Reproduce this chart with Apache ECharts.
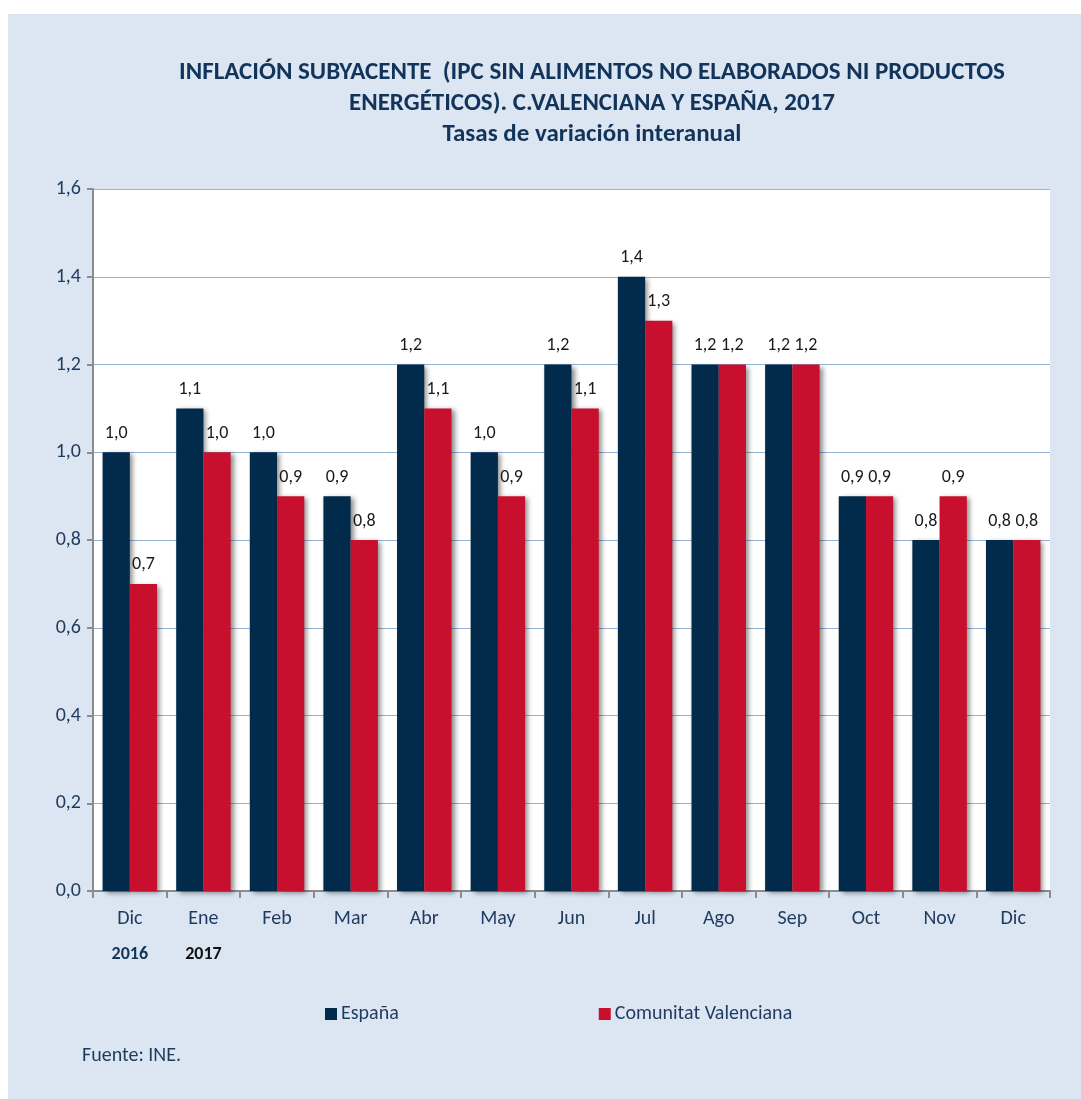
<!DOCTYPE html>
<html>
<head>
<meta charset="utf-8">
<script src="https://cdn.jsdelivr.net/npm/echarts@6/dist/echarts.min.js"></script>
<style>
  html, body { margin: 0; padding: 0; background: #fff; }
  #chart { position: absolute; left: 8px; top: 14px; width: 1073px; height: 1085px; }
</style>
</head>
<body>
<div id="chart"></div>
<script>
var months = ['Dic', 'Ene', 'Feb', 'Mar', 'Abr', 'May', 'Jun', 'Jul', 'Ago', 'Sep', 'Oct', 'Nov', 'Dic'];
var years = ['2016', '2017', '', '', '', '', '', '', '', '', '', '', ''];
var espana = [1.0, 1.1, 1.0, 0.9, 1.2, 1.0, 1.2, 1.4, 1.2, 1.2, 0.9, 0.8, 0.8];
var cvalenciana = [0.7, 1.0, 0.9, 0.8, 1.1, 0.9, 1.1, 1.3, 1.2, 1.2, 0.9, 0.9, 0.8];
var yTicks = [0, 0.2, 0.4, 0.6, 0.8, 1.0, 1.2, 1.4, 1.6];

var font = "Carlito, 'Liberation Sans Narrow', 'Noto Sans', sans-serif";

var chart = echarts.init(document.getElementById('chart'));

function fmt(v) {
  return v.toFixed(1).replace('.', ',');
}

var labelStyle = {
  show: true,
  position: 'top',
  distance: 10,
  color: '#1a1a1a',
  fontSize: 18,
  fontFamily: font,
  formatter: function (p) { return fmt(p.value); }
};

var shadow = {
  shadowColor: 'rgba(0,0,0,0.45)',
  shadowBlur: 5,
  shadowOffsetX: 3,
  shadowOffsetY: 2
};

var option = {
  backgroundColor: '#dce6f2',
  animation: false,
  title: {
    text: 'INFLACIÓN SUBYACENTE  (IPC SIN ALIMENTOS NO ELABORADOS NI PRODUCTOS\nENERGÉTICOS). C.VALENCIANA Y ESPAÑA, 2017\nTasas de variación interanual',
    left: 579,
    top: 38,
    textAlign: 'center',
    textStyle: {
      color: '#12345a',
      fontSize: 25,
      fontWeight: 'bold',
      fontFamily: font,
      lineHeight: 31
    }
  },
  legend: {
    data: ['España', 'Comunitat Valenciana'],
    left: 312,
    top: 985,
    itemWidth: 12,
    itemHeight: 12,
    itemGap: 200,
    icon: 'rect',
    textStyle: { color: '#1f3a5f', fontSize: 20, fontFamily: font, padding: [0, 0, 0, -1] }
  },
  graphic: [{
    type: 'text',
    left: 74,
    top: 1032,
    style: { text: 'Fuente: INE.', fill: '#1f3a5f', fontSize: 20, fontFamily: font }
  }],
  grid: {
    left: 85,
    top: 175,
    width: 957,
    height: 702,
    show: true,
    backgroundColor: '#ffffff',
    borderWidth: 0
  },
  xAxis: {
    type: 'category',
    data: months,
    axisLine: { lineStyle: { color: '#8c8c8c', width: 2 } },
    axisTick: { show: true, length: 7, lineStyle: { color: '#8c8c8c', width: 2 } },
    axisLabel: {
      margin: 14,
      interval: 0,
      formatter: function (v, i) {
        var y = years[i];
        if (!y) return '{m|' + v + '}\n{e|}';
        return '{m|' + v + '}\n{' + (i === 0 ? 'y0' : 'y1') + '|' + y + '}';
      },
      rich: {
        m: { color: '#1f3a5f', fontSize: 20, fontFamily: font, lineHeight: 28 },
        e: { fontSize: 18, lineHeight: 42 },
        y0: { color: '#12345a', fontSize: 18, fontWeight: 'bold', fontFamily: font, lineHeight: 42 },
        y1: { color: '#111111', fontSize: 18, fontWeight: 'bold', fontFamily: font, lineHeight: 42 }
      }
    }
  },
  yAxis: {
    type: 'value',
    min: 0,
    max: 1.6,
    interval: 0.2,
    axisLine: { show: true, lineStyle: { color: '#8c8c8c', width: 2 } },
    axisTick: { show: true, length: 6, lineStyle: { color: '#8c8c8c', width: 2 } },
    splitLine: { lineStyle: { color: '#95b3d7', width: 1 } },
    axisLabel: {
      margin: 12,
      color: '#1f3a5f',
      fontSize: 20,
      fontFamily: font,
      customValues: yTicks,
      formatter: function (v) { return fmt(v); }
    }
  },
  series: [
    {
      name: 'España',
      type: 'bar',
      data: espana,
      barGap: '0%',
      barCategoryGap: '26%',
      itemStyle: Object.assign({ color: '#022a4a' }, shadow),
      label: labelStyle
    },
    {
      name: 'Comunitat Valenciana',
      type: 'bar',
      data: cvalenciana,
      itemStyle: Object.assign({ color: '#c8102e' }, shadow),
      label: labelStyle
    }
  ]
};

chart.setOption(option);
</script>
</body>
</html>
